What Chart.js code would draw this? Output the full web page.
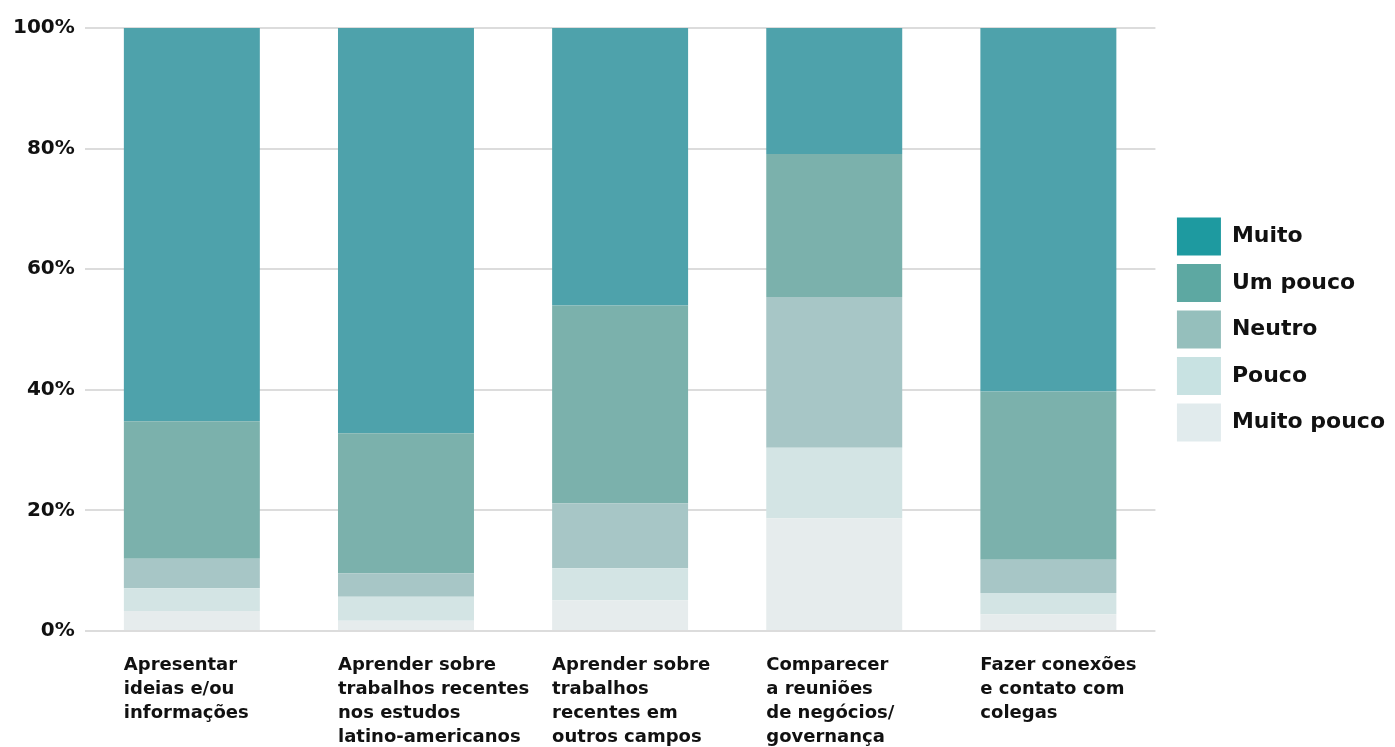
<!DOCTYPE html>
<html>
<head>
<meta charset="utf-8">
<script src="https://cdn.jsdelivr.net/npm/chart.js@4.4.0/dist/chart.umd.min.js"></script>
<style>
  html, body { margin: 0; padding: 0; background: #fff; }
  #wrap { width: 1395px; height: 747px; position: relative; }
</style>
</head>
<body>
<div id="wrap"><canvas id="chart"></canvas></div>
<script>
// --- DATOS ---
const categories = [
    ['Apresentar', 'ideias e/ou', 'informações'],
    ['Aprender sobre', 'trabalhos recentes', 'nos estudos', 'latino-americanos'],
    ['Aprender sobre', 'trabalhos', 'recentes em', 'outros campos'],
    ['Comparecer', 'a reuniões', 'de negócios/', 'governança'],
    ['Fazer conexões', 'e contato com', 'colegas']
];

// porcentagens (de baixo para cima)
const muitoPouco = [3.3, 1.7, 5.1, 18.7, 2.8];
const pouco      = [3.8, 4.0, 5.3, 11.7, 3.5];
const neutro     = [4.9, 3.9, 10.8, 25.0, 5.5];
const umPouco    = [22.8, 23.2, 32.8, 23.7, 27.9];
const muito      = [65.2, 67.2, 46.0, 20.9, 60.3];

const yTicks = [0, 20, 40, 60, 80, 100];

const FONT = "'DejaVu Sans', sans-serif";

const series = [
    { label: 'Muito pouco', data: muitoPouco, bar: '#e6eced', key: '#e1ebed' },
    { label: 'Pouco',       data: pouco,      bar: '#d3e4e4', key: '#c8e2e2' },
    { label: 'Neutro',      data: neutro,     bar: '#a7c6c6', key: '#95bfbc' },
    { label: 'Um pouco',    data: umPouco,    bar: '#7bb1ac', key: '#5da8a2' },
    { label: 'Muito',       data: muito,      bar: '#4ea2ab', key: '#1e9aa0' }
];

const ctx = document.getElementById('chart').getContext('2d');
new Chart(ctx, {
    type: 'bar',
    data: {
        labels: categories,
        datasets: series.map(s => ({
            label: s.label,
            data: s.data,
            backgroundColor: s.bar,
            borderWidth: 0,
            barPercentage: 0.635,
            categoryPercentage: 1
        }))
    },
    options: {
        responsive: true,
        maintainAspectRatio: false,
        animation: false,
        layout: { padding: { top: 28, left: 3, right: 0, bottom: -24 } },
        plugins: {
            tooltip: { enabled: false },
            legend: {
                position: 'right',
                fullSize: false,
                reverse: true,
                labels: {
                    boxWidth: 44,
                    boxHeight: 38,
                    padding: 8.5,
                    color: '#111',
                    font: { family: FONT, size: 22, weight: 'bold' },
                    generateLabels: chart => {
                        const items = Chart.defaults.plugins.legend.labels.generateLabels(chart);
                        items.forEach(it => {
                            it.fillStyle = series[it.datasetIndex].key;
                            it.lineWidth = 0;
                            it.strokeStyle = 'rgba(0,0,0,0)';
                        });
                        return items;
                    }
                }
            }
        },
        scales: {
            x: {
                stacked: true,
                grid: { display: false, drawTicks: false },
                border: { display: false },
                ticks: {
                    align: 'start',
                    labelOffset: -68,
                    padding: 22,
                    maxRotation: 0,
                    minRotation: 0,
                    autoSkip: false,
                    color: '#111',
                    font: { family: FONT, size: 18, weight: 'bold', lineHeight: 1.333 }
                }
            },
            y: {
                stacked: true,
                min: 0,
                max: 100,
                afterBuildTicks: axis => { axis.ticks = yTicks.map(v => ({ value: v })); },
                grid: { color: '#dcdcdc', lineWidth: 2, drawTicks: false },
                border: { display: false },
                ticks: {
                    padding: 10,
                    color: '#111',
                    font: { family: FONT, size: 20, weight: 'bold' },
                    callback: v => v + '%'
                }
            },
            // espaço vazio entre a área do gráfico e a legenda
            gap: {
                position: 'right',
                grid: { display: false, drawTicks: false },
                border: { display: false },
                ticks: { display: false },
                afterFit: axis => { axis.width = 13; }
            }
        }
    }
});
</script>
</body>
</html>
